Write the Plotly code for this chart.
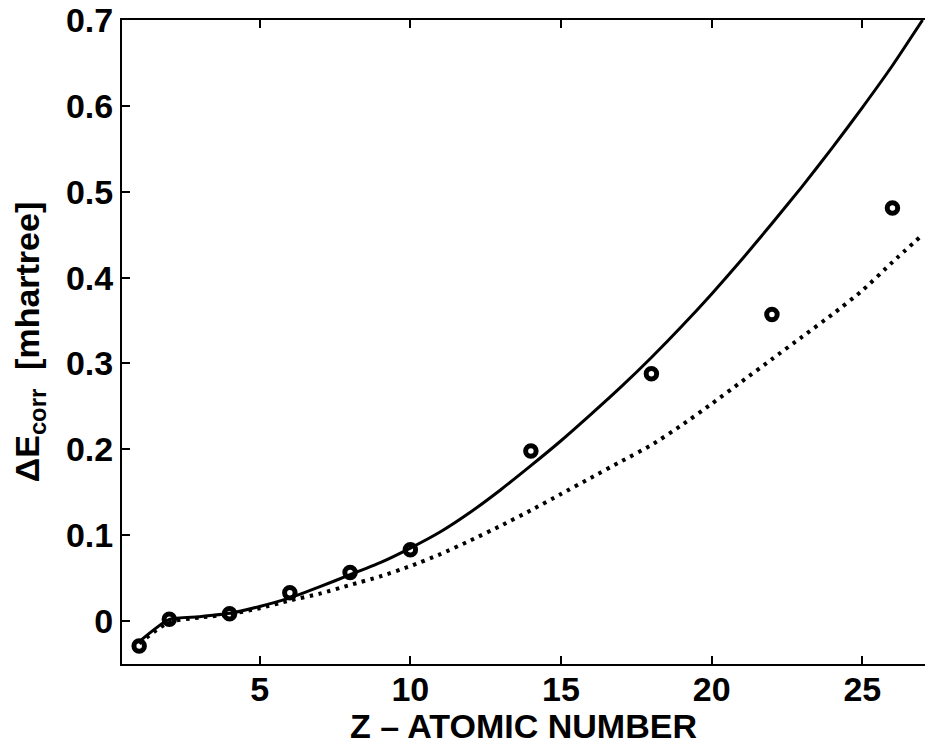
import plotly.graph_objects as go

# Data
z_points = [1, 2, 4, 6, 8, 10, 14, 18, 22, 26]
e_points = [-0.029, 0.002, 0.0085, 0.033, 0.0566, 0.083, 0.198, 0.288, 0.357, 0.481]

z_curve = list(range(1, 28))
e_solid = [-0.024, 0.002, 0.005, 0.009, 0.017, 0.027, 0.040, 0.054, 0.068, 0.085,
           0.104, 0.127, 0.153, 0.181, 0.210, 0.241, 0.273, 0.307, 0.343, 0.381,
           0.421, 0.463, 0.506, 0.551, 0.598, 0.647, 0.700]
e_dotted = [-0.026, -0.001, 0.004, 0.008, 0.015, 0.024, 0.032, 0.042, 0.052, 0.064,
            0.078, 0.094, 0.111, 0.129, 0.148, 0.167, 0.186, 0.205, 0.228, 0.253,
            0.279, 0.305, 0.331, 0.357, 0.385, 0.418, 0.450]

x_ticks = [5, 10, 15, 20, 25]
y_ticks = [0, 0.1, 0.2, 0.3, 0.4, 0.5, 0.6, 0.7]
y_tick_text = ["0", "0.1", "0.2", "0.3", "0.4", "0.5", "0.6", "0.7"]

font_family = "Liberation Sans, Arial, sans-serif"

fig = go.Figure()
fig.add_trace(go.Scatter(x=z_curve, y=e_dotted, mode="lines",
                         line=dict(color="black", width=4, dash="3.5px,5.5px", shape="spline", smoothing=0.6),
                         showlegend=False))
fig.add_trace(go.Scatter(x=z_curve, y=e_solid, mode="lines",
                         line=dict(color="black", width=3, shape="spline", smoothing=0.6),
                         showlegend=False))
fig.add_trace(go.Scatter(x=z_points, y=e_points, mode="markers",
                         marker=dict(symbol="circle-open", size=10.5, color="black",
                                     line=dict(color="black", width=5)),
                         showlegend=False))

fig.update_layout(
    width=925, height=745,
    margin=dict(l=122, r=0, t=20, b=81),
    paper_bgcolor="white", plot_bgcolor="white",
    font=dict(family=font_family, size=34, color="black"),
    xaxis=dict(range=[0.43, 27.08], tickvals=x_ticks, ticks="inside", ticklen=8,
               tickwidth=1.5, tickcolor="black", showline=True, linecolor="black",
               linewidth=2, mirror="ticks", showgrid=False, zeroline=False,
               ticklabelstandoff=-6,
               tickfont=dict(size=34, family=font_family, weight="bold"),
               title=dict(text="Z – ATOMIC NUMBER", standoff=0,
                          font=dict(size=34, family=font_family, weight="bold"))),
    yaxis=dict(range=[-0.05, 0.7], tickvals=y_ticks, ticktext=y_tick_text,
               ticks="inside", ticklen=8, tickwidth=1.5, tickcolor="black",
               showline=True, linecolor="black", linewidth=2, mirror=False,
               showgrid=False, zeroline=False,
               tickfont=dict(size=34, family=font_family, weight="bold"),
               title=dict(text="ΔE<sub>corr</sub>  [mhartree]",
                          standoff=16, font=dict(size=34, family=font_family, weight="bold"))),
)

fig.write_html("out.html")
